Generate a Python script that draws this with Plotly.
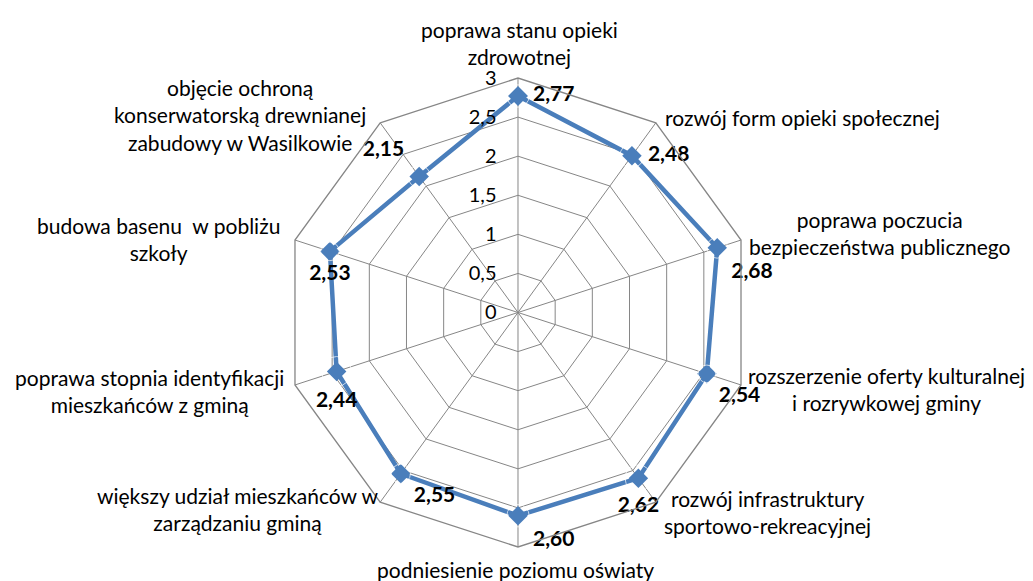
import math
import plotly.graph_objects as go

categories = [
    "poprawa stanu opieki<br>zdrowotnej",
    "rozwój form opieki społecznej",
    "poprawa poczucia<br>bezpieczeństwa publicznego",
    "rozszerzenie oferty kulturalnej<br>i rozrywkowej gminy",
    "rozwój infrastruktury<br>sportowo-rekreacyjnej",
    "podniesienie poziomu oświaty",
    "większy udział mieszkańców w<br>zarządzaniu gminą",
    "poprawa stopnia identyfikacji<br>mieszkańców z gminą",
    "budowa basenu  w pobliżu<br>szkoły",
    "objęcie ochroną<br>konserwatorską drewnianej<br>zabudowy w Wasilkowie",
]
values = [2.77, 2.48, 2.68, 2.54, 2.62, 2.60, 2.55, 2.44, 2.53, 2.15]
value_labels = ["2,77", "2,48", "2,68", "2,54", "2,62", "2,60", "2,55", "2,44", "2,53", "2,15"]
radial_ticks = [0, 0.5, 1, 1.5, 2, 2.5, 3]
radial_ticktext = ["0", "0,5", "1", "1,5", "2", "2,5", "3"]

# --- styling (positions of labels relative to their point / vertex) ---
label_positions = ["middle right", "middle right", "bottom right", "bottom right", "bottom center",
                   "bottom right", "bottom right", "bottom center", "bottom center", "top left"]
label_pad = [22.4, 24, 20.8, 17.6, 26.6, 22.4, 19.2, 29.8, 18.6, 22.4]  # invisible marker sizes -> text offset
cat_anchor = [("center", 2, 35), ("left", 7, 5), ("left", 6, 7), ("left", 5, -4), ("left", 6, -10),
              ("center", -2, -23), ("right", 1, -7), ("right", -9, -6), ("right", -13, 1), ("right", -12, 8)]

W, H = 1033, 581
DOM_X = [0.2667, 0.7207]
DOM_Y = [0.0723, 0.8795]

ids = list(range(len(categories)))
r_closed = values + values[:1]
theta_closed = ids + ids[:1]

BLUE = "#4A7EBB"
GRID = "#868686"
FONT = "Lato, 'Open Sans', sans-serif"

fig = go.Figure()
fig.add_trace(go.Scatterpolar(
    r=r_closed,
    theta=theta_closed,
    mode="lines+markers",
    line=dict(color=BLUE, width=4.5),
    marker=dict(symbol="diamond", size=15, color=BLUE),
    showlegend=False,
    hoverinfo="skip",
))
fig.add_trace(go.Scatterpolar(
    r=values,
    theta=ids,
    mode="markers+text",
    marker=dict(size=label_pad, color="rgba(0,0,0,0)"),
    text=value_labels,
    textposition=label_positions,
    textfont=dict(family=FONT, size=21, color="black", weight="bold"),
    showlegend=False,
    hoverinfo="skip",
    cliponaxis=False,
))

# category labels, placed at the outer vertices of the polar domain
cx = sum(DOM_X) / 2
cy = sum(DOM_Y) / 2
rx = (DOM_X[1] - DOM_X[0]) / 2
ry = (DOM_Y[1] - DOM_Y[0]) / 2
annotations = []
n = len(categories)
for i, lab in enumerate(categories):
    a = math.radians(90 - 360 * i / n)
    xa, xs, ys = cat_anchor[i]
    annotations.append(dict(
        x=cx + rx * math.cos(a), y=cy + ry * math.sin(a),
        xref="paper", yref="paper",
        text=lab, showarrow=False,
        xanchor=xa, yanchor="middle", align="center",
        xshift=xs, yshift=ys,
        font=dict(family=FONT, size=21, color="black"),
    ))

fig.update_layout(
    width=W, height=H,
    margin=dict(l=0, r=0, t=0, b=0),
    paper_bgcolor="white",
    plot_bgcolor="white",
    font=dict(family=FONT, size=20, color="black"),
    annotations=annotations,
    polar=dict(
        domain=dict(x=DOM_X, y=DOM_Y),
        gridshape="linear",
        bgcolor="white",
        radialaxis=dict(
            range=[0, 3],
            tickvals=radial_ticks,
            ticktext=radial_ticktext,
            angle=90,
            tickangle=90,
            side="counterclockwise",
            showline=False,
            ticks="outside",
            ticklen=14,
            tickcolor="rgba(0,0,0,0)",
            gridcolor=GRID,
            gridwidth=1.3,
            tickfont=dict(family=FONT, size=20, color="black"),
        ),
        angularaxis=dict(
            type="category",
            tickmode="array",
            tickvals=ids,
            showticklabels=False,
            rotation=90,
            direction="clockwise",
            showline=True,
            linecolor=GRID,
            linewidth=1.3,
            gridcolor=GRID,
            gridwidth=1.3,
            ticks="",
        ),
    ),
)

fig.write_html("out.html")
